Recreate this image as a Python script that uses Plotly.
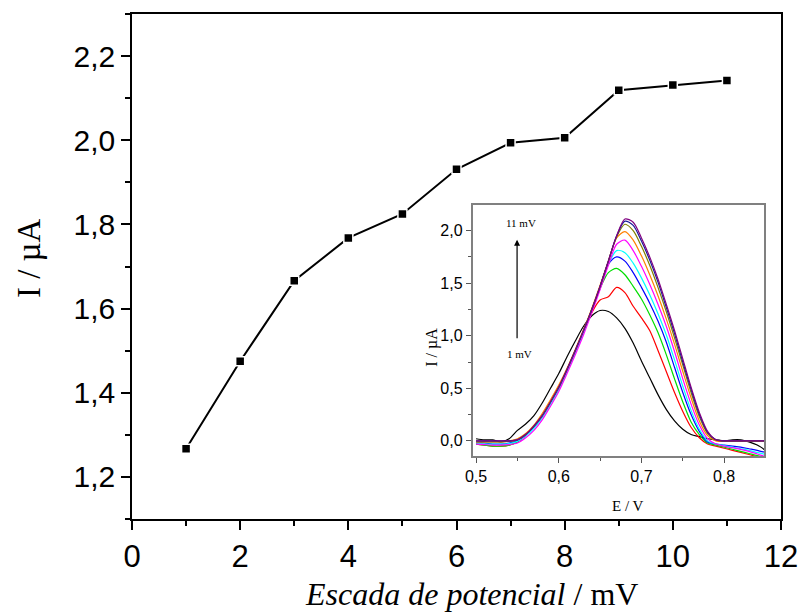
import plotly.graph_objects as go

# ---------------- main data ----------------
steps_mV = [1, 2, 3, 4, 5, 6, 7, 8, 9, 10, 11]
current_uA = [1.267, 1.475, 1.666, 1.768, 1.825, 1.931, 1.994, 2.006, 2.119, 2.131, 2.142]

# ---------------- inset data (voltammograms) ----------------
E_V = [0.50, 0.51, 0.52, 0.53, 0.54, 0.55, 0.56, 0.57, 0.58, 0.59,
       0.60, 0.61, 0.62, 0.63, 0.64, 0.65, 0.66, 0.67, 0.68, 0.69,
       0.70, 0.71, 0.72, 0.73, 0.74, 0.75, 0.76, 0.77, 0.78, 0.79,
       0.80, 0.81, 0.82, 0.83, 0.84, 0.85]

i_black = [0.02, 0.01, 0.01, -0.01, 0.02, 0.10, 0.16, 0.24, 0.36, 0.50,
           0.64, 0.80, 0.95, 1.09, 1.19, 1.24, 1.23, 1.17, 1.07, 0.93,
           0.76, 0.60, 0.44, 0.30, 0.19, 0.11, 0.06, 0.04, 0.02, 0.01,
           0.00, 0.01, 0.01, -0.01, -0.04, -0.09]
i_red = [-0.03, -0.04, -0.05, -0.05, -0.04, -0.01, 0.05, 0.13, 0.23, 0.36,
         0.50, 0.67, 0.85, 1.04, 1.22, 1.34, 1.37, 1.46, 1.41, 1.28,
         1.17, 1.05, 0.86, 0.66, 0.46, 0.28, 0.13, 0.03, -0.03, -0.05,
         -0.07, -0.09, -0.11, -0.13, -0.15, -0.16]
i_green = [-0.03, -0.04, -0.05, -0.05, -0.04, -0.01, 0.05, 0.13, 0.23, 0.36,
           0.50, 0.67, 0.85, 1.04, 1.25, 1.45, 1.60, 1.64, 1.58, 1.47,
           1.35, 1.20, 1.03, 0.82, 0.59, 0.37, 0.18, 0.06, -0.02, -0.04,
           -0.06, -0.08, -0.10, -0.12, -0.14, -0.155]
i_blue = [-0.02, -0.02, -0.03, -0.03, -0.02, 0.00, 0.05, 0.13, 0.23, 0.36,
          0.50, 0.67, 0.85, 1.04, 1.25, 1.47, 1.68, 1.75, 1.71, 1.60,
          1.46, 1.31, 1.14, 0.94, 0.70, 0.46, 0.25, 0.09, -0.01, -0.03,
          -0.04, -0.05, -0.06, -0.075, -0.09, -0.11]
i_cyan = [-0.02, -0.03, -0.03, -0.03, -0.025, -0.005, 0.045, 0.12, 0.22, 0.35,
          0.49, 0.66, 0.84, 1.03, 1.24, 1.46, 1.68, 1.81, 1.79, 1.69,
          1.55, 1.39, 1.21, 1.01, 0.77, 0.52, 0.29, 0.11, 0.00, -0.03,
          -0.045, -0.06, -0.075, -0.09, -0.11, -0.13]
i_magenta = [-0.03, -0.035, -0.04, -0.04, -0.035, -0.02, 0.03, 0.10, 0.20, 0.33,
             0.47, 0.64, 0.82, 1.01, 1.22, 1.44, 1.67, 1.87, 1.91, 1.81,
             1.66, 1.49, 1.30, 1.09, 0.85, 0.59, 0.35, 0.15, 0.02, -0.03,
             -0.05, -0.065, -0.08, -0.10, -0.125, -0.15]
i_orange = [-0.01, -0.01, -0.01, -0.01, 0.00, 0.02, 0.07, 0.15, 0.26, 0.39,
            0.53, 0.69, 0.87, 1.06, 1.26, 1.48, 1.71, 1.93, 1.99, 1.91,
            1.76, 1.58, 1.38, 1.16, 0.92, 0.66, 0.41, 0.19, 0.05, 0.00,
            -0.005, -0.005, -0.005, -0.005, -0.005, -0.005]
i_olive = [-0.01, -0.01, -0.01, -0.01, -0.005, 0.01, 0.06, 0.14, 0.24, 0.37,
           0.51, 0.68, 0.86, 1.05, 1.25, 1.47, 1.71, 1.94, 2.06, 2.00,
           1.85, 1.67, 1.46, 1.23, 0.98, 0.72, 0.46, 0.23, 0.07, 0.01,
           0.00, 0.00, 0.00, 0.00, 0.00, 0.00]
i_navy = [0.00, 0.00, 0.00, 0.00, 0.00, 0.01, 0.06, 0.14, 0.24, 0.37,
          0.51, 0.68, 0.86, 1.05, 1.25, 1.47, 1.71, 1.95, 2.09, 2.05,
          1.90, 1.72, 1.51, 1.27, 1.02, 0.75, 0.49, 0.25, 0.08, 0.01,
          0.00, 0.00, 0.00, 0.00, 0.00, 0.00]
i_purple = [0.00, 0.00, 0.00, 0.00, 0.00, 0.01, 0.06, 0.14, 0.24, 0.37,
            0.51, 0.68, 0.86, 1.05, 1.25, 1.47, 1.71, 1.95, 2.11, 2.08,
            1.93, 1.75, 1.54, 1.30, 1.05, 0.78, 0.51, 0.27, 0.09, 0.01,
            0.00, 0.00, 0.00, 0.00, 0.00, 0.00]

inset_series = [i_black, i_red, i_green, i_blue, i_cyan, i_magenta,
                i_orange, i_olive, i_navy, i_purple]
inset_colors = ["#000000", "#ff0000", "#00dd00", "#0000ff", "#00ffff", "#ff00ff",
                "#ff8000", "#808000", "#1a1a99", "#800080"]

# ---------------- figure ----------------
W, H = 810, 616
L, R, T, B = 132, 19, 13, 97
pw, ph = W - L - R, H - T - B


def px_x(px):
    return (px - L) / pw


def px_y(py):
    return (H - B - py) / ph


fig = go.Figure()

fig.add_trace(go.Scatter(
    x=steps_mV, y=current_uA, mode="lines+markers",
    line=dict(color="black", width=2),
    marker=dict(symbol="square", size=9, color="black",
                line=dict(color="white", width=1.5)),
    xaxis="x", yaxis="y", hoverinfo="skip"))

for ys, col in zip(inset_series, inset_colors):
    fig.add_trace(go.Scatter(
        x=E_V, y=ys, mode="lines", line=dict(color=col, width=1.2, shape="spline", smoothing=0.8),
        xaxis="x2", yaxis="y2", hoverinfo="skip"))

main_axis = dict(showline=True, linecolor="black", linewidth=1.5, mirror=True,
                 ticks="outside", ticklen=9, tickwidth=1.5, tickcolor="black",
                 showgrid=False, zeroline=False)

fig.update_layout(
    width=W, height=H, autosize=False,
    margin=dict(l=L, r=R, t=T, b=B, pad=0),
    paper_bgcolor="white", plot_bgcolor="white",
    showlegend=False, separators=", ",
    font=dict(family="Liberation Sans, Arial", color="black"),
    xaxis=dict(domain=[0, 1], range=[0, 12], tick0=0, dtick=2,
               tickfont=dict(size=31, family="Liberation Sans, Arial"),
               minor=dict(dtick=1, ticks="outside", ticklen=5, tickwidth=1.5,
                          tickcolor="black", showgrid=False),
               **main_axis),
    yaxis=dict(domain=[0, 1], range=[1.1, 2.3], tick0=0, dtick=0.2, tickformat=".1f",
               tickfont=dict(size=30, family="Liberation Sans, Arial"),
               minor=dict(dtick=0.1, ticks="outside", ticklen=5, tickwidth=1.5,
                          tickcolor="black", showgrid=False),
               **main_axis),
    xaxis2=dict(domain=[px_x(478), px_x(774)], anchor="y2",
                range=[0.496, 0.8485], tick0=0.5, dtick=0.1, tickformat=".1f",
                showline=True, linecolor="#808080", linewidth=2, mirror=True,
                ticks="outside", ticklen=5, tickwidth=1, tickcolor="#555555",
                tickfont=dict(size=16, family="Liberation Sans, Arial"),
                minor=dict(dtick=0.05, ticks="outside", ticklen=3, tickwidth=1,
                           tickcolor="#555555", showgrid=False),
                showgrid=False, zeroline=False),
    yaxis2=dict(domain=[px_y(456), px_y(204)], anchor="x2",
                range=[-0.145, 2.247], tick0=0, dtick=0.5, tickformat=".1f",
                showline=True, linecolor="#808080", linewidth=2, mirror=True,
                ticks="outside", ticklen=5, tickwidth=1, tickcolor="#555555",
                tickfont=dict(size=16, family="Liberation Sans, Arial"),
                minor=dict(dtick=0.25, ticks="outside", ticklen=3, tickwidth=1,
                           tickcolor="#555555", showgrid=False),
                showgrid=False, zeroline=False),
)

serif = "Liberation Serif, Times New Roman"
annotations = [
    dict(text="I / µA", x=px_x(27), y=px_y(258), xref="paper", yref="paper",
         textangle=-90, showarrow=False, xanchor="center", yanchor="middle",
         font=dict(family=serif, size=33, color="black")),
    dict(text="<i>Escada de potencial</i> / mV", x=px_x(477), y=px_y(594),
         xref="paper", yref="paper", showarrow=False, xanchor="center", yanchor="middle",
         font=dict(family=serif, size=32, color="black")),
    dict(text="I / µA", x=px_x(437), y=px_y(347), xref="paper", yref="paper",
         textangle=-90, showarrow=False, xanchor="center", yanchor="middle",
         font=dict(family=serif, size=16, color="black")),
    dict(text="E / V", x=px_x(636), y=px_y(506), xref="paper", yref="paper",
         showarrow=False, xanchor="center", yanchor="middle",
         font=dict(family=serif, size=15, color="black")),
    dict(text="11 mV", x=0.554, y=2.071, xref="x2", yref="y2", showarrow=False,
         xanchor="center", yanchor="middle", font=dict(family=serif, size=11, color="black")),
    dict(text="1 mV", x=0.5528, y=0.823, xref="x2", yref="y2", showarrow=False,
         xanchor="center", yanchor="middle", font=dict(family=serif, size=11, color="black")),
    dict(text="", x=0.5496, y=1.912, xref="x2", yref="y2", showarrow=True,
         ax=0, ay=100, axref="pixel", ayref="pixel", arrowhead=2, arrowsize=1,
         arrowwidth=1.2, arrowcolor="black"),
]
fig.update_layout(annotations=annotations)

fig.write_html("out.html")
